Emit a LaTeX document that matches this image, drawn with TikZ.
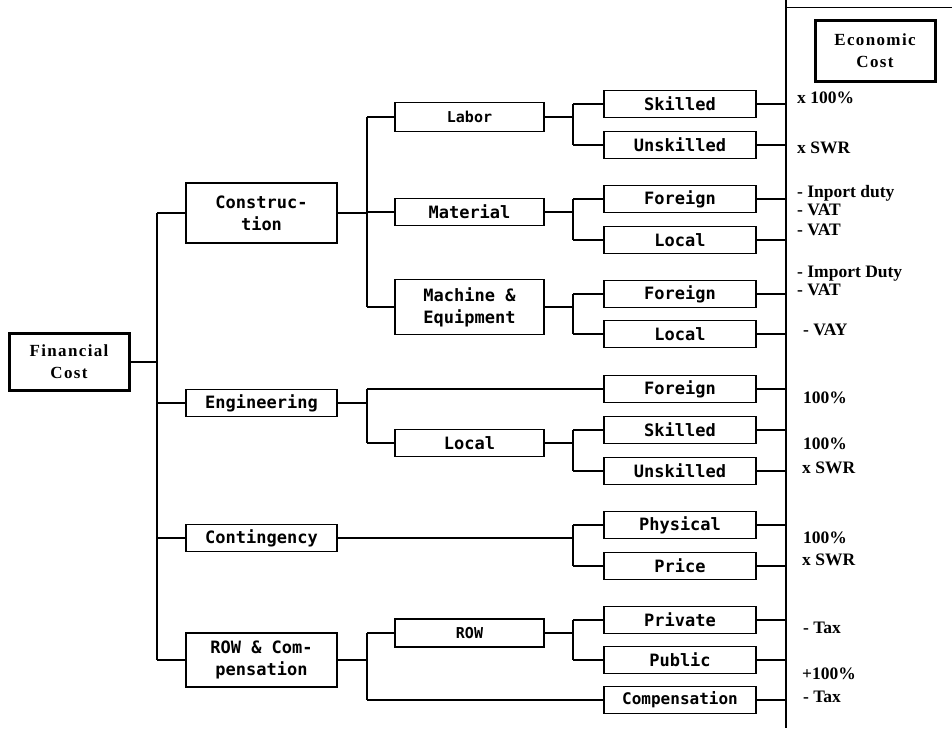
\documentclass[tikz,border=0pt]{standalone}
\usepackage{fontspec}
\setmainfont{Liberation Serif}
\newfontfamily\boxfont{DejaVu Sans Mono}
\newfontfamily\headfont[LetterSpace=8]{Liberation Serif}
\begin{document}
\begin{tikzpicture}[x=1pt,y=-1pt,
  bx/.style={draw, line width=1.5pt, rectangle, inner sep=0pt, align=center,
    font={\boxfont\bfseries\fontsize{17}{22}\selectfont}},
  lbox/.style={bx, minimum width=151pt},
  mbox/.style={bx, minimum width=149pt},
  rbox/.style={bx, minimum width=152pt, minimum height=27pt},
  hbox/.style={draw, line width=3pt, rectangle, inner sep=0pt, align=center,
    font={\headfont\bfseries\fontsize{17}{22}\selectfont}},
  conn/.style={line width=1.4pt},
  rtxt/.style={anchor=base west, inner sep=0pt, font={\bfseries\fontsize{17.5}{20}\selectfont}}
]
\useasboundingbox (0,0) rectangle (952,728);

% coordinates of forks
\coordinate (T) at (157,0);
\coordinate (U) at (367,0);
\coordinate (V) at (573,0);
\coordinate (W) at (786,0);
\coordinate (Wb) at (786,728);
\coordinate (topL) at (786,7);
\coordinate (topR) at (952,7);

% head boxes
\node[hbox, minimum width=120pt, minimum height=57pt] (fin) at (69,362) {Financial\\Cost};
\node[hbox, minimum width=120pt, minimum height=61pt] (eco) at (875,50.5) {Economic\\Cost};

% left column
\node[lbox, minimum height=60pt] (con) at (261.5,213) {Construc-\\tion};
\node[lbox, minimum height=27pt] (eng) at (261.5,403) {Engineering};
\node[lbox, minimum height=27pt] (cnt) at (261.5,538) {Contingency};
\node[lbox, minimum height=54pt] (rc) at (261.5,660) {ROW \& Com-\\pensation};

% middle column
\node[mbox, minimum height=29pt, font={\boxfont\bfseries\fontsize{15}{20}\selectfont}] (lab) at (469.5,117) {Labor};
\node[mbox, minimum height=27pt] (mat) at (469.5,212) {Material};
\node[mbox, minimum height=55pt] (mac) at (469.5,307) {Machine \&\\Equipment};
\node[mbox, minimum height=27pt] (loc) at (469.5,443) {Local};
\node[mbox, minimum height=28pt, font={\boxfont\bfseries\fontsize{15}{20}\selectfont}] (row) at (469.5,633) {ROW};

% right column
\node[rbox] (sk1) at (680,104) {Skilled};
\node[rbox] (us1) at (680,145) {Unskilled};
\node[rbox] (fo1) at (680,199) {Foreign};
\node[rbox] (lo1) at (680,240) {Local};
\node[rbox] (fo2) at (680,294) {Foreign};
\node[rbox] (lo2) at (680,334) {Local};
\node[rbox] (fo3) at (680,389) {Foreign};
\node[rbox] (sk2) at (680,430) {Skilled};
\node[rbox] (us2) at (680,471) {Unskilled};
\node[rbox] (phy) at (680,525) {Physical};
\node[rbox] (pri) at (680,566) {Price};
\node[rbox] (prv) at (680,620) {Private};
\node[rbox] (pub) at (680,660) {Public};
\node[rbox, font={\boxfont\bfseries\fontsize{16}{20}\selectfont}] (cmp) at (680,700) {Compensation};

% trunk
\draw[conn] (fin.east) -- (fin.east -| T);
\draw[conn] (con.west -| T) -- (rc.west -| T);
\foreach \n in {con,eng,cnt,rc} \draw[conn] (\n.west) -- (\n.west -| T);

% construction fork
\draw[conn] (con.east) -- (con.east -| U);
\draw[conn] (lab.west -| U) -- (mac.west -| U);
\foreach \n in {lab,mat,mac} \draw[conn] (\n.west) -- (\n.west -| U);

% engineering fork
\draw[conn] (eng.east) -- (eng.east -| U);
\draw[conn] (fo3.west -| U) -- (loc.west -| U);
\draw[conn] (fo3.west) -- (fo3.west -| U);
\draw[conn] (loc.west) -- (loc.west -| U);

% contingency fork
\draw[conn] (cnt.east) -- (cnt.east -| V);
\draw[conn] (phy.west -| V) -- (pri.west -| V);
\draw[conn] (phy.west) -- (phy.west -| V);
\draw[conn] (pri.west) -- (pri.west -| V);

% ROW & compensation fork
\draw[conn] (rc.east) -- (rc.east -| U);
\draw[conn] (row.west -| U) -- (cmp.west -| U);
\draw[conn] (row.west) -- (row.west -| U);
\draw[conn] (cmp.west) -- (cmp.west -| U);

% third-level forks
\foreach \m/\a/\b in {lab/sk1/us1, mat/fo1/lo1, mac/fo2/lo2, loc/sk2/us2, row/prv/pub}{
  \draw[conn] (\m.east) -- (\m.east -| V);
  \draw[conn] (\a.west -| V) -- (\b.west -| V);
  \draw[conn] (\a.west) -- (\a.west -| V);
  \draw[conn] (\b.west) -- (\b.west -| V);
}

% right connectors
\foreach \n in {sk1,us1,fo1,lo1,fo2,lo2,fo3,sk2,us2,phy,pri,prv,pub,cmp}
  \draw[conn] (\n.east) -- (\n.east -| W);

% economic cost column line
\draw[line width=2.4pt] (W) -- (Wb);
\draw[line width=0.7pt] (topL) -- (topR);

% economic cost texts
\node[rtxt] (e1) at (797,103) {x 100\%};
\node[rtxt] (e2) at (797,153) {x SWR};
\node[rtxt] (e3) at (797,197) {- Inport duty};
\node[rtxt] (e4) at (797,215) {- VAT};
\node[rtxt] (e5) at (797,235) {- VAT};
\node[rtxt] (e6) at (797,277) {- Import Duty};
\node[rtxt] (e7) at (797,295) {- VAT};
\node[rtxt] (e8) at (803,335) {- VAY};
\node[rtxt] (e9) at (803,403) {100\%};
\node[rtxt] (e10) at (803,449) {100\%};
\node[rtxt] (e11) at (802,473) {x SWR};
\node[rtxt] (e12) at (803,543) {100\%};
\node[rtxt] (e13) at (802,565) {x SWR};
\node[rtxt] (e14) at (803,633) {- Tax};
\node[rtxt] (e15) at (802,679) {+100\%};
\node[rtxt] (e16) at (803,702) {- Tax};
\end{tikzpicture}
\end{document}
